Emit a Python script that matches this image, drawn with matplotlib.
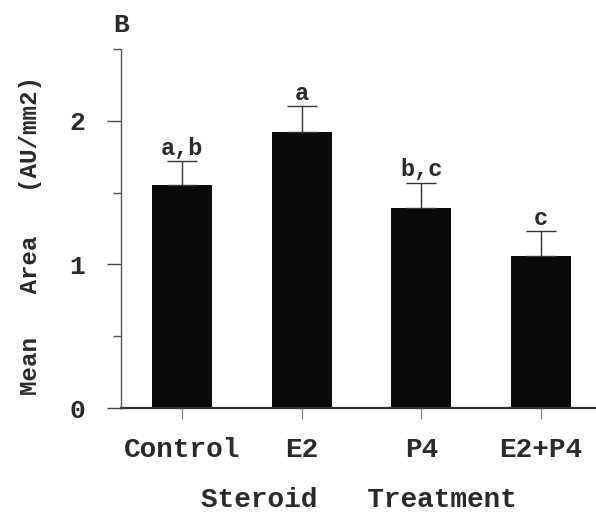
import matplotlib
matplotlib.use("Agg")
import matplotlib.pyplot as plt
from matplotlib.ticker import FixedLocator

categories = ["Control", "E2", "P4", "E2+P4"]
means = [1.55, 1.92, 1.39, 1.06]
sems = [0.17, 0.18, 0.18, 0.17]
letters = ["a,b", "a", "b,c", "c"]
yticks = [0, 1, 2]

plt.rcParams['font.family'] = ['Liberation Mono', 'DejaVu Sans Mono']
plt.rcParams['font.weight'] = 'bold'
plt.rcParams['axes.labelweight'] = 'bold'
txt_color = '#2a2a2a'

fig = plt.figure(figsize=(5.96, 5.14), dpi=100)
ax = fig.add_axes([121/596, 1-408/514, 1-121/596, (408-49)/514])
x = list(range(len(categories)))
ax.bar(x, means, width=0.5, color='#0a0a0a', zorder=2,
       yerr=[[0]*len(sems), sems],
       error_kw=dict(ecolor='#333333', elinewidth=1.0, capsize=10.5, capthick=1.0))

for xi, m, s, lab in zip(x, means, sems, letters):
    ax.annotate(lab, (xi, m + s), xytext=(0, 1), textcoords='offset points',
                ha='center', va='bottom', fontsize=17, color=txt_color)

ax.set_xlim(-0.51, 3.46)
ax.set_ylim(0, 2.5)
ax.set_yticks(yticks)
ax.yaxis.set_minor_locator(FixedLocator([0.5, 1.5, 2.5]))
ax.set_xticks(x)
ax.set_xticklabels(categories)

for s in ['top', 'right']:
    ax.spines[s].set_visible(False)
ax.spines['left'].set_color('#555555')
ax.spines['left'].set_linewidth(1.0)
ax.spines['bottom'].set_color('#333333')
ax.spines['bottom'].set_linewidth(1.6)

ax.tick_params(axis='y', which='major', length=10, width=1.0, color='#444444',
               pad=16, labelsize=19, labelcolor=txt_color)
ax.tick_params(axis='y', which='minor', length=6, width=1.0, color='#555555')
ax.tick_params(axis='x', which='major', length=8, width=0.8, color='#777777',
               pad=13, labelsize=20, labelcolor=txt_color)

ax.set_xlabel("Steroid   Treatment", fontsize=20, color=txt_color, labelpad=17)
ax.set_ylabel("Mean   Area   (AU/mm2)", fontsize=17.5, color=txt_color)
ax.yaxis.set_label_coords(-0.166, 0.48)

fig.text(121/596, 1-25/514, "B", fontsize=19, ha='center', va='center', color=txt_color)

fig.savefig("out.png", dpi=100)
